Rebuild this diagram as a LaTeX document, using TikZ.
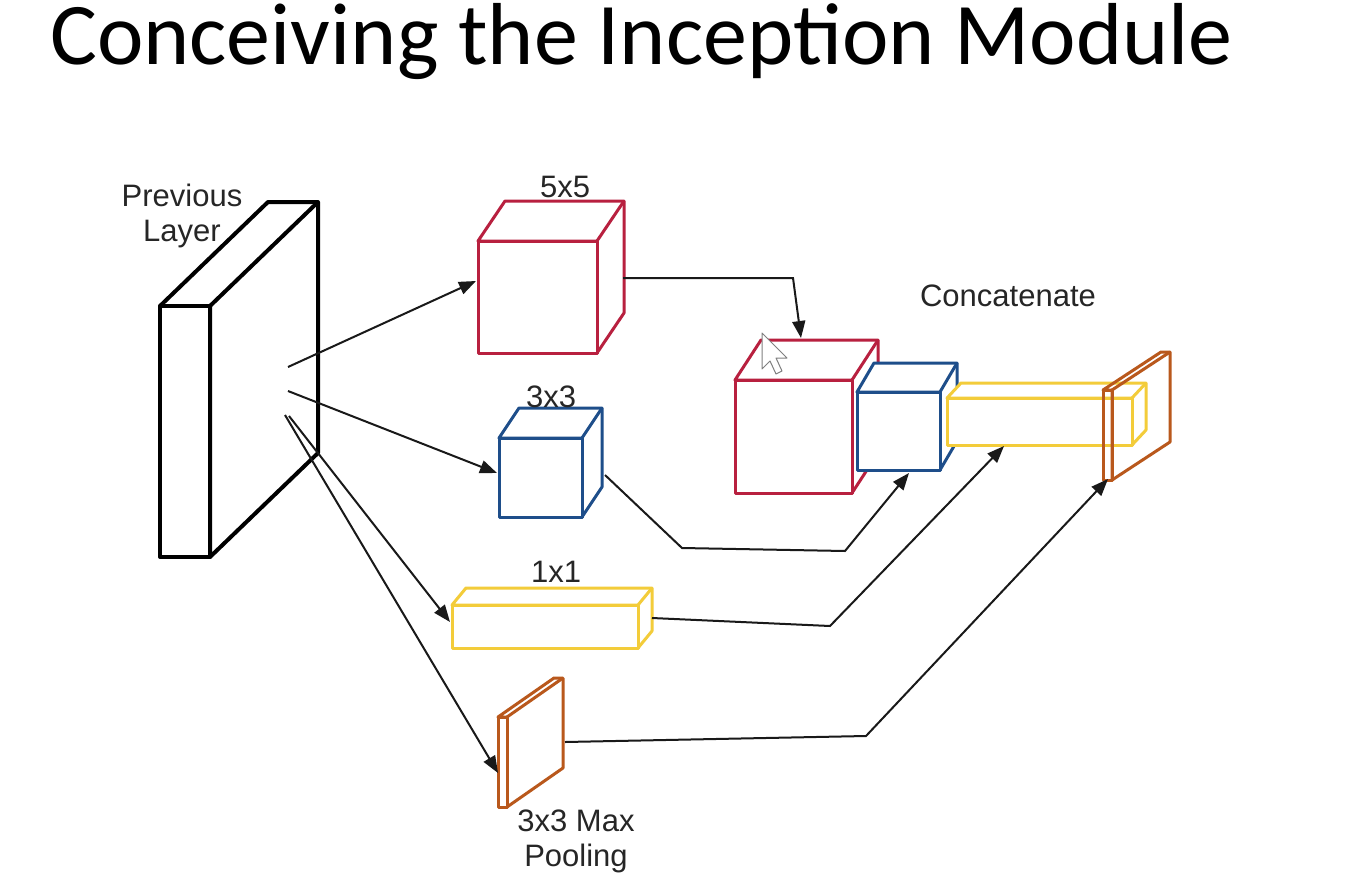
\documentclass[tikz,border=0pt]{standalone}
\usepackage{fontspec}
\setmainfont{Liberation Sans}
\newfontfamily\titlefont{Carlito}
\usetikzlibrary{arrows.meta}
\definecolor{cred}{HTML}{B8203F}
\definecolor{cblue}{HTML}{1E4E8A}
\definecolor{cyel}{HTML}{F3CC3A}
\definecolor{corg}{HTML}{B9581C}
% #1 left x, #2 top y, #3 right x, #4 bottom y, #5 depth dx, #6 depth dy (up), #7 style
\newcommand\mycuboid[7]{%
  \filldraw[fill=white,line join=round,#7] (#1,#2) -- ({#1+#5},{#2-#6}) -- ({#3+#5},{#2-#6}) -- ({#3+#5},{#4-#6}) -- (#3,#4) -- (#3,#2) -- cycle;
  \filldraw[fill=white,line join=round,#7] (#1,#2) rectangle (#3,#4);
  \draw[line join=round,#7] (#3,#2) -- ({#3+#5},{#2-#6});
}
\begin{document}
\begin{tikzpicture}[x=1pt,y=-1pt,
  conn/.style={line width=2pt, draw=black!90},
  arr/.style={conn,-{Triangle[length=17pt,width=13pt]}},
  lbl/.style={font=\fontsize{31}{35}\selectfont, align=center, inner sep=0pt, text=black!85},
  box/.style={line width=3pt}]
\useasboundingbox[fill=white] (0,0) rectangle (1356,891);
\node[anchor=base west, inner sep=0pt, font=\titlefont\fontsize{88}{90}\selectfont] (title) at (50,64) {Conceiving the Inception Module};

% previous layer
\mycuboid{160}{306}{210}{557}{108}{104}{line width=4pt, draw=black}
\node[lbl] (prevlbl) at (182,216) {Previous\\Layer};

% branches
\mycuboid{478}{241}{597}{353}{27}{40}{box, draw=cred}
\node[lbl] (l5) at (565,187) {5x5};
\mycuboid{499}{438}{582}{517}{20}{30}{box, draw=cblue}
\node[lbl] (l3) at (551,397) {3x3};
\mycuboid{452}{605}{638}{648}{14}{17}{box, draw=cyel}
\node[lbl] (l1) at (556,572) {1x1};
\mycuboid{498}{717}{507}{807}{56}{39}{box, draw=corg}
\node[lbl] (lp) at (576,841) {3x3 Max\\Pooling};

% concatenation
\mycuboid{735}{380}{852}{493}{26}{40}{box, draw=cred}
\mycuboid{857}{392}{940}{470}{17}{29}{box, draw=cblue}
\mycuboid{947}{398}{1132}{445}{14}{15}{box, draw=cyel}
\mycuboid{1103}{390}{1112}{480}{58}{38}{box, draw=corg, fill=none}
\node[lbl] (lc) at (1008,296) {Concatenate};

% connector coordinates
\coordinate (p1) at (288,367);
\coordinate (p2) at (288,391);
\coordinate (p3) at (289,416);
\coordinate (p4) at (285,415);
\coordinate (in5) at (476,281);
\coordinate (in3) at (497,473);
\coordinate (in1) at (450,622);
\coordinate (inp) at (498,773);
\coordinate (out5) at (623,278);
\coordinate (b5) at (793,278);
\coordinate (cr) at (801,338);
\coordinate (out3) at (605,475);
\coordinate (b3a) at (682,548);
\coordinate (b3b) at (845,551);
\coordinate (cb) at (909,473);
\coordinate (out1) at (652,618);
\coordinate (b1) at (830,626);
\coordinate (cy) at (1004,446);
\coordinate (outp) at (565,742);
\coordinate (bp) at (866,736);
\coordinate (co) at (1108,479);

\draw[arr] (p1) -- (in5);
\draw[arr] (p2) -- (in3);
\draw[arr] (p3) -- (in1);
\draw[arr] (p4) -- (inp);
\draw[arr] (out5) -- (b5) -- (cr);
\draw[arr] (out3) -- (b3a) -- (b3b) -- (cb);
\draw[arr] (out1) -- (b1) -- (cy);
\draw[arr] (outp) -- (bp) -- (co);

% mouse cursor
\filldraw[fill=white, draw=gray, line width=1pt, line join=round] (762,333) -- (762,369) -- (770,361) -- (776,374) -- (782,371) -- (776,358) -- (787,358) -- cycle;
\end{tikzpicture}
\end{document}
